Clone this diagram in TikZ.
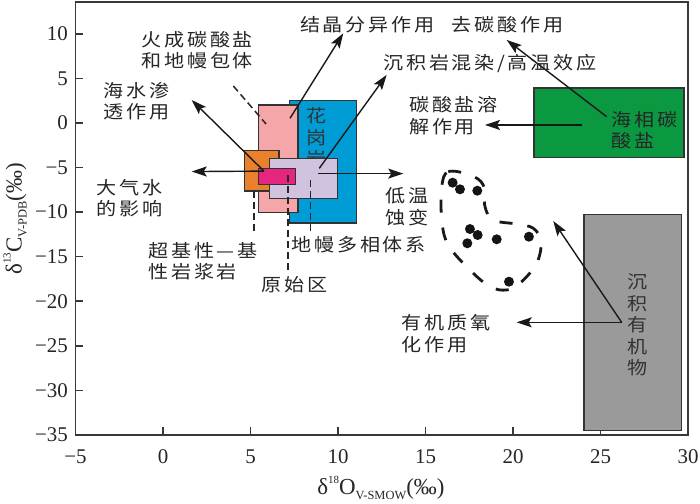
\documentclass[tikz,border=0pt]{standalone}
\usepackage{fontspec}
\setmainfont{Liberation Serif}
\newfontfamily\cjk{Noto Sans CJK SC}[FakeStretch=1.12,LetterSpace=15]
\usetikzlibrary{arrows.meta}
\definecolor{cblue}{RGB}{0,156,214}
\definecolor{cpink}{RGB}{244,166,168}
\definecolor{corange}{RGB}{232,128,44}
\definecolor{clav}{RGB}{207,195,224}
\definecolor{cmag}{RGB}{228,38,126}
\definecolor{cgreen}{RGB}{10,152,64}
\definecolor{cgray}{RGB}{154,154,154}
\newcommand{\upidx}[1]{\raisebox{0.48em}{\fontsize{11}{11}\selectfont #1}}
\newcommand{\dnidx}[1]{\raisebox{-0.22em}{\fontsize{12.5}{12.5}\selectfont #1}}
\tikzset{
 frame/.style={draw=black!78, line width=1.6bp},
 boxstyle/.style={draw=black!80, line width=1.5bp},
 arr/.style={line width=1.4bp, draw=black!90, -{Stealth[length=15bp,width=10bp,inset=3bp]}},
 guide/.style={line width=1.5bp, draw=black!85, dash pattern=on 7bp off 4bp},
 blob/.style={line width=2.8bp, draw=black!90, dash pattern=on 13bp off 15bp},
 lab/.style={font=\cjk\fontsize{18}{21.5}\selectfont, text=black!85, inner sep=0pt, align=left},
 vlab/.style={font=\cjk\fontsize{18}{21.7}\selectfont, text=black!80, inner sep=0pt, align=center},
 ticklab/.style={font=\fontsize{21}{21}\selectfont, text=black!85, inner sep=0pt},
 axlab/.style={font=\fontsize{23}{23}\selectfont, text=black!85, inner sep=0pt},
 dot/.style={fill=black!92},
}
\begin{document}
\begin{tikzpicture}[x=17.5bp,y=8.91bp]
\useasboundingbox (-9.3143,-42.76) rectangle (30.6857,13.805);
\fill[white] (-9.3143,-42.76) rectangle (30.6857,13.805);
% frame and ticks
\draw[frame] (-5,-35) rectangle (30,13.58);
\foreach \t in {0,5,...,25} \draw[frame] (\t,-35) -- ++(0,8bp);
\foreach \t in {-30,-25,...,10} \draw[frame] (-5,\t) -- ++(8bp,0);
\foreach \v/\l in {-5/−5,0/0,5/5,10/10,15/15,20/20,25/25,30/30}
  \node[ticklab] (xl\v) at (\v,-37.45) {\l};
\foreach \v/\l in {10/10,5/5,0/0,-5/−5,-10/−10,-15/−15,-20/−20,-25/−25,-30/−30,-35/−35}
  \node[ticklab,anchor=east] (yl\v) at (-5.43,\v) {\l};
\node[axlab] (xlabel) at (12.45,-41.0) {δ\upidx{18}O\dnidx{V-SMOW}(‰)};
\node[axlab,rotate=90] (ylabel) at (-8.45,-10.77) {δ\upidx{13}C\dnidx{V-PDB}(‰)};
% boxes
\draw[boxstyle,fill=cblue] (7.22,2.5) rectangle (11.07,-11.2);
\draw[boxstyle,fill=cpink] (5.47,2.0) rectangle (7.72,-10.05);
\node[vlab] (granite) at (8.8,-1.6) {花\\岗\\岩};
\draw[boxstyle,fill=corange] (4.65,-3.1) rectangle (6.62,-7.65);
\draw[boxstyle,fill=clav] (6.08,-4.0) rectangle (9.98,-8.45);
\draw[boxstyle,fill=cmag] (5.47,-5.09) rectangle (7.56,-6.88);
\draw[boxstyle,fill=cgreen] (21.2,3.9) rectangle (29.77,-3.9);
\draw[boxstyle,fill=cgray] (24.07,-10.25) rectangle (29.64,-34.5);
% guide dashed lines
\coordinate (d1a) at (4.02,4.15); \coordinate (d1b) at (5.89,-0.11);
\coordinate (d2a) at (5.2,-7.67); \coordinate (d2b) at (5.2,-12.3);
\coordinate (d3a) at (7.13,-5.84); \coordinate (d3b) at (7.13,-16.5);
\coordinate (d4a) at (8.44,-6.4); \coordinate (d4b) at (8.44,-12.2);
\draw[guide] (d1a) -- (d1b);
\draw[guide] (d2a) -- (d2b);
\draw[guide] (d3a) -- (d3b);
\draw[guide] (d4a) -- (d4b);
% arrows
\coordinate (sMag) at (5.77,-5.4);
\coordinate (eSea) at (1.64,2.58);
\coordinate (eMet) at (1.64,-5.45);
\coordinate (sLav) at (8.88,-5.68);
\coordinate (eLow) at (13.73,-5.68);
\coordinate (sPink) at (7.26,0.53);
\coordinate (eCry) at (10.3,10.07);
\coordinate (sLav2) at (8.93,-5.09);
\coordinate (eSed) at (12.78,5.4);
\coordinate (sGrn) at (23.92,-0.22);
\coordinate (eDis) at (18.4,-0.22);
\coordinate (sGrn2) at (25.35,0.71);
\coordinate (eDec) at (19.64,9.32);
\coordinate (sOrg) at (26.21,-22.37);
\coordinate (eOx) at (20.21,-22.37);
\coordinate (eBlob) at (22.3,-11.0);
\draw[arr] (sMag) -- (eSea);
\draw[arr] (sMag) -- (eMet);
\draw[arr] (sLav) -- (eLow);
\draw[arr] (sPink) -- (eCry);
\draw[arr] (sLav2) -- (eSed);
\draw[arr] (sGrn) -- (eDis);
\draw[arr] (sGrn2) -- (eDec);
\draw[arr] (sOrg) -- (eOx);
\draw[arr] (sOrg) -- (eBlob);
% blob and dots
\draw[blob] plot[smooth cycle, tension=0.6] coordinates {
 (15.93,-7.15) (16.30,-5.47) (17.54,-5.84) (18.30,-6.96) (18.40,-9.39)
 (18.87,-10.89) (20.21,-11.34) (21.16,-11.82) (21.6,-13.32) (21.35,-15.75)
 (20.4,-17.99) (19.64,-18.74) (18.69,-18.37) (17.54,-16.5) (16.30,-13.69)
 (15.93,-10.89)};
\foreach \px/\py in {16.55/-6.70,16.97/-7.44,17.96/-7.6,17.54/-11.9,17.98/-12.57,17.39/-13.5,19.07/-13.05,20.91/-12.76,19.77/-17.81}
  \fill[dot] (\px,\py) circle[radius=5bp];
% labels
\node[lab,anchor=west] (igneous) at (-1.22,8.19) {火成碳酸盐\\和地幔包体};
\node[lab,anchor=west] (cryst) at (7.83,11.0) {结晶分异作用};
\node[lab,anchor=west] (decarb) at (16.5,11.0) {去碳酸作用};
\node[lab,anchor=west] (sedcont) at (12.59,6.7) {沉积岩混染/高温效应};
\node[lab,anchor=west] (seawater) at (-3.41,2.43) {海水渗\\透作用};
\node[lab,anchor=west] (dissol) at (14.07,0.8) {碳酸盐溶\\解作用};
\node[lab,anchor=west] (meteoric) at (-3.79,-8.45) {大气水\\的影响};
\node[lab,anchor=west] (lowtemp) at (12.69,-9.38) {低温\\蚀变};
\node[lab,anchor=west] (mantle) at (7.35,-13.7) {地幔多相体系};
\node[lab,anchor=west] (ultra) at (-0.84,-15.5) {超基性—基\\性岩浆岩};
\node[lab,anchor=west] (primary) at (5.64,-18.2) {原始区};
\node[lab,anchor=west] (oxid) at (13.64,-23.66) {有机质氧\\化作用};
\node[lab,anchor=west] (marine) at (25.64,-0.79) {海相碳\\酸盐};
\node[vlab] (organic) at (27.14,-22.67) {沉\\积\\有\\机\\物};
\end{tikzpicture}
\end{document}
